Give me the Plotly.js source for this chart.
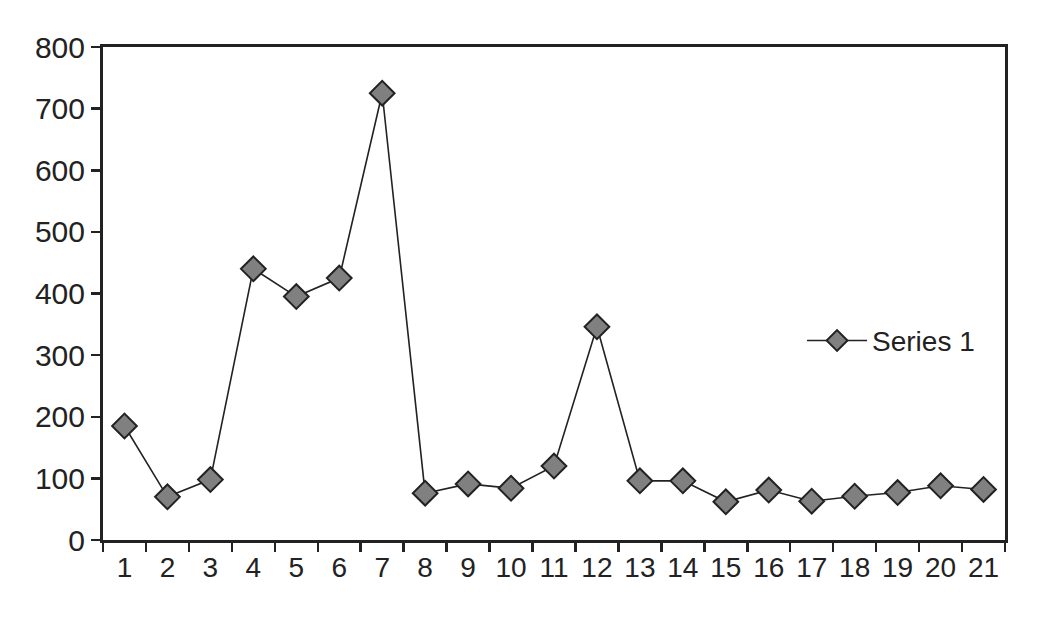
<!DOCTYPE html>
<html>
<head>
<meta charset="utf-8">
<script src="https://cdn.plot.ly/plotly-3.0.1.min.js"></script>
<style>
  html, body { margin: 0; padding: 0; background: #fff; }
  #plot { width: 1041px; height: 620px; }
</style>
</head>
<body>
<div id="plot"></div>
<script>
// categories along the x axis
const categories = ["1", "2", "3", "4", "5", "6", "7", "8", "9", "10", "11",
                    "12", "13", "14", "15", "16", "17", "18", "19", "20", "21"];

// values
const series1 = [185, 70, 98, 440, 395, 425, 725, 76, 91, 84, 120,
                 346, 96, 96, 62, 81, 63, 71, 77, 88, 82];

const yTicks = [0, 100, 200, 300, 400, 500, 600, 700, 800];

const ink = "#222222";
const font = "'Liberation Sans Narrow', 'Arial Narrow', 'Liberation Sans', sans-serif";

const data = [
    {
        type: "scatter",
        mode: "lines+markers",
        name: "Series 1",
        x: categories,
        y: series1,
        line: { color: ink, width: 1.6 },
        marker: {
            symbol: "diamond",
            size: 19,
            color: "#808080",
            line: { color: ink, width: 2 }
        }
    }
];

const layout = {
    width: 1041,
    height: 620,
    margin: { l: 103, r: 36, t: 47, b: 80 },
    paper_bgcolor: "#ffffff",
    plot_bgcolor: "#ffffff",
    font: { family: font, size: 29, color: ink },
    showlegend: true,
    legend: {
        x: 0.775,
        y: 0.404,
        xanchor: "left",
        yanchor: "middle",
        bgcolor: "rgba(0,0,0,0)",
        font: { family: font, size: 28, color: ink },
        itemwidth: 60
    },
    xaxis: {
        type: "category",
        range: [-0.5, 20.5],
        tickson: "boundaries",
        tickangle: 0,
        ticks: "outside",
        ticklen: 9,
        tickwidth: 2.5,
        tickcolor: ink,
        showline: true,
        linecolor: ink,
        linewidth: 3,
        mirror: true,
        showgrid: false,
        zeroline: false,
        tickfont: { family: font, size: 28, color: ink }
    },
    yaxis: {
        range: [0, 800],
        tickvals: yTicks,
        ticks: "outside",
        ticklen: 9,
        tickwidth: 2.5,
        tickcolor: ink,
        showline: true,
        linecolor: ink,
        linewidth: 3,
        mirror: true,
        showgrid: false,
        zeroline: false,
        tickfont: { family: font, size: 30, color: ink }
    }
};

Plotly.newPlot("plot", data, layout, { staticPlot: true });
</script>
</body>
</html>
